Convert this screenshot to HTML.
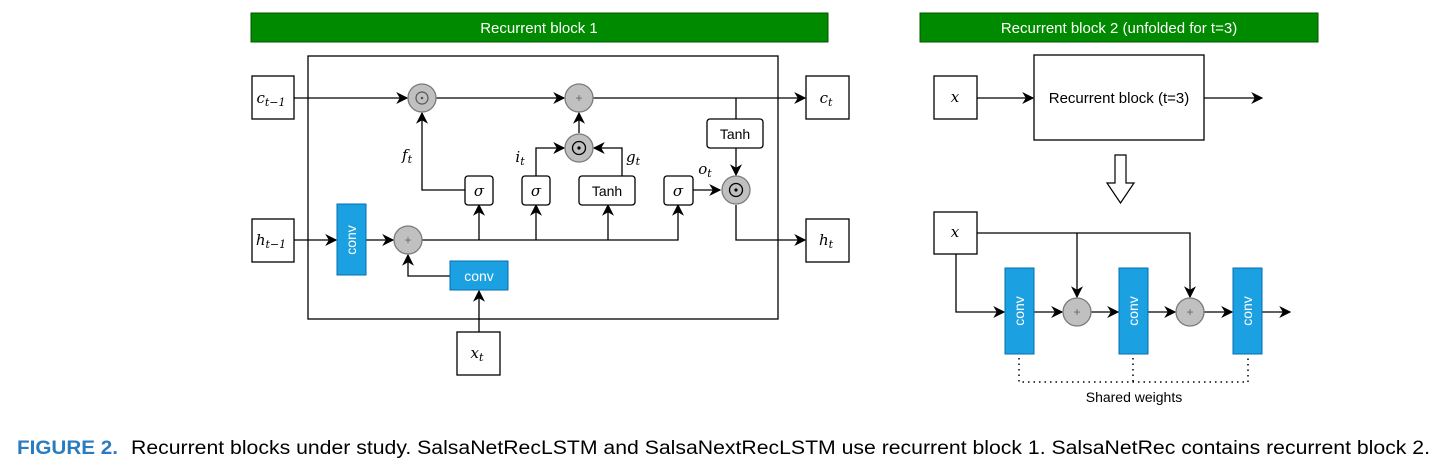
<!DOCTYPE html>
<html><head><meta charset="utf-8"><style>
html,body{margin:0;padding:0;background:#fff;width:1444px;height:470px;overflow:hidden}
svg{display:block}
.m{font-family:"DejaVu Serif","Liberation Serif",serif;font-style:italic}
.s{font-family:"Liberation Sans",sans-serif}
</style></head><body>
<svg width="1444" height="470" viewBox="0 0 1444 470" xmlns="http://www.w3.org/2000/svg">
<defs>
<marker id="a" viewBox="0 0 10 10" refX="9" refY="5" markerWidth="12" markerHeight="12" orient="auto" markerUnits="userSpaceOnUse">
<path d="M0,0 L10,5 L0,10 L3,5 z" fill="#000"/></marker>
</defs>
<!-- green headers -->
<rect x="251" y="13" width="577" height="29" fill="#008a00" stroke="#005700"/>
<text x="539" y="33" fill="#fff" class="s" font-size="15" text-anchor="middle">Recurrent block 1</text>
<rect x="920" y="13" width="398" height="29" fill="#008a00" stroke="#005700"/>
<text x="1119" y="33" fill="#fff" class="s" font-size="15" text-anchor="middle">Recurrent block 2 (unfolded for t=3)</text>

<!-- right side -->
<g stroke="#000" stroke-width="1.3" fill="none">
<rect x="934" y="76" width="43" height="43" fill="#fff"/>
<rect x="1034" y="55" width="170" height="85" fill="#fff"/>
<line x1="977" y1="98" x2="1033" y2="98" marker-end="url(#a)"/>
<line x1="1204" y1="98" x2="1262" y2="98" marker-end="url(#a)"/>
<polygon points="1115,155 1126,155 1126,183 1134,183 1120.5,203 1107,183 1115,183" stroke-width="1.2"/>
<rect x="934" y="212" width="43" height="42" fill="#fff"/>
<polyline points="977,233 1190,233 1190,297" marker-end="url(#a)"/>
<line x1="1077" y1="233" x2="1077" y2="297" marker-end="url(#a)"/>
<polyline points="956,254 956,312 1004,312" marker-end="url(#a)"/>
<line x1="1034" y1="312" x2="1062" y2="312" marker-end="url(#a)"/>
<line x1="1091" y1="312" x2="1118" y2="312" marker-end="url(#a)"/>
<line x1="1148" y1="312" x2="1175" y2="312" marker-end="url(#a)"/>
<line x1="1204" y1="312" x2="1232" y2="312" marker-end="url(#a)"/>
<line x1="1262" y1="312" x2="1290" y2="312" marker-end="url(#a)"/>
<polyline points="1019,358 1019,382 1248,382 1248,358" stroke-dasharray="1.5,4" stroke-width="1.5"/>
<line x1="1133" y1="358" x2="1133" y2="382" stroke-dasharray="1.5,4" stroke-width="1.5"/>
</g>
<text x="1119" y="103" class="s" font-size="15" text-anchor="middle">Recurrent block (t=3)</text>
<text x="1134" y="402" class="s" font-size="14" text-anchor="middle">Shared weights</text>

<g stroke="#000" stroke-width="1.3" fill="none">
<rect x="308" y="56" width="470" height="263"/>
<rect x="252" y="76" width="42" height="43" fill="#fff"/>
<rect x="252" y="219" width="42" height="43" fill="#fff"/>
<rect x="806" y="76" width="43" height="43" fill="#fff"/>
<rect x="806" y="219" width="43" height="43" fill="#fff"/>
<rect x="457" y="332" width="43" height="43" fill="#fff"/>

<line x1="294" y1="98" x2="407" y2="98" marker-end="url(#a)"/>
<line x1="436" y1="98" x2="564" y2="98" marker-end="url(#a)"/>
<line x1="593" y1="98" x2="805" y2="98" marker-end="url(#a)"/>
<polyline points="465,190 422,190 422,113" marker-end="url(#a)"/>
<line x1="579" y1="133" x2="579" y2="113" marker-end="url(#a)"/>
<polyline points="536,176 536,148 564,148" marker-end="url(#a)"/>
<polyline points="622,176 622,148 594,148" marker-end="url(#a)"/>
<line x1="736" y1="98" x2="736" y2="119"/>
<line x1="736" y1="148" x2="736" y2="175" marker-end="url(#a)"/>
<line x1="693" y1="190" x2="720" y2="190" marker-end="url(#a)"/>
<polyline points="736,205 736,240 805,240" marker-end="url(#a)"/>
<line x1="294" y1="240" x2="336" y2="240" marker-end="url(#a)"/>
<line x1="366" y1="240" x2="393" y2="240" marker-end="url(#a)"/>
<polyline points="422,240 678,240 678,205" marker-end="url(#a)"/>
<line x1="479" y1="240" x2="479" y2="205" marker-end="url(#a)"/>
<line x1="536" y1="240" x2="536" y2="205" marker-end="url(#a)"/>
<line x1="608" y1="240" x2="608" y2="205" marker-end="url(#a)"/>
<polyline points="450,276 408,276 408,255" marker-end="url(#a)"/>
<line x1="479" y1="332" x2="479" y2="291" marker-end="url(#a)"/>

<rect x="465" y="176" width="28" height="29" rx="3" fill="#fff"/>
<rect x="522" y="176" width="28" height="29" rx="3" fill="#fff"/>
<rect x="579" y="176" width="56" height="29" rx="3" fill="#fff"/>
<rect x="664" y="176" width="29" height="29" rx="3" fill="#fff"/>
<rect x="707" y="119" width="56" height="29" rx="3" fill="#fff"/>
</g>
<g fill="#c0c0c0" stroke="#7a7a7a" stroke-width="1.3">
<circle cx="422" cy="98" r="14"/><circle cx="579" cy="98" r="14"/>
<circle cx="579" cy="148" r="14"/><circle cx="736" cy="190" r="14"/>
<circle cx="408" cy="240" r="14"/>
<circle cx="1077" cy="312" r="14"/><circle cx="1190" cy="312" r="14"/>
</g>
<g fill="none" stroke="#555" stroke-width="1.2">
<circle cx="422" cy="98" r="6"/>
</g>
<g fill="none" stroke="#000" stroke-width="1.3">
<circle cx="579" cy="148" r="6.5"/><circle cx="736" cy="190" r="6.5"/>
</g>
<g fill="#000"><circle cx="422" cy="98" r="1.3" fill="#555"/><circle cx="579" cy="148" r="1.6"/><circle cx="736" cy="190" r="1.6"/></g>
<g class="s" font-size="12" fill="#666" text-anchor="middle">
<text x="579" y="102">+</text><text x="408" y="244">+</text>
<text x="1077" y="316">+</text><text x="1190" y="316">+</text>
</g>
<g fill="#1ba1e2" stroke="#006eaf" stroke-width="1">
<rect x="337" y="204" width="29" height="71"/>
<rect x="450" y="261" width="58" height="29"/>
<rect x="1005" y="268" width="29" height="86"/>
<rect x="1119" y="268" width="29" height="86"/>
<rect x="1233" y="268" width="29" height="86"/>
</g>
<g class="s" font-size="14" fill="#fff" text-anchor="middle">
<text x="479" y="281">conv</text>
<text transform="translate(356,240) rotate(-90)">conv</text>
<text transform="translate(1024,311) rotate(-90)">conv</text>
<text transform="translate(1138,311) rotate(-90)">conv</text>
<text transform="translate(1252,311) rotate(-90)">conv</text>
</g>
<g class="s" font-size="14" fill="#000" text-anchor="middle">
<text x="607" y="196">Tanh</text><text x="735" y="139">Tanh</text>
</g>
<g class="m" font-size="15" fill="#000" text-anchor="middle">
<text x="479" y="196">σ</text><text x="536" y="196">σ</text><text x="678" y="196">σ</text>
<text x="271" y="103">c<tspan font-size="11" dy="3">t−1</tspan></text>
<text x="271" y="245">h<tspan font-size="11" dy="3">t−1</tspan></text>
<text x="826" y="103">c<tspan font-size="11" dy="3">t</tspan></text>
<text x="826" y="245">h<tspan font-size="11" dy="3">t</tspan></text>
<text x="477" y="358">x<tspan font-size="11" dy="3">t</tspan></text>
<text x="407" y="160">f<tspan font-size="11" dy="3">t</tspan></text>
<text x="520" y="162">i<tspan font-size="11" dy="3">t</tspan></text>
<text x="633" y="162">g<tspan font-size="11" dy="3">t</tspan></text>
<text x="705" y="174">o<tspan font-size="11" dy="3">t</tspan></text>
<text x="955" y="102">x</text><text x="955" y="237">x</text>
</g>

<text x="17" y="454" class="s" font-size="19" font-weight="bold" fill="#2a7bbf" textLength="101" lengthAdjust="spacingAndGlyphs">FIGURE 2.</text>
<text x="131" y="454" class="s" font-size="19" fill="#000" textLength="1299" lengthAdjust="spacingAndGlyphs">Recurrent blocks under study. SalsaNetRecLSTM and SalsaNextRecLSTM use recurrent block 1. SalsaNetRec contains recurrent block 2.</text>
</svg>
</body></html>
